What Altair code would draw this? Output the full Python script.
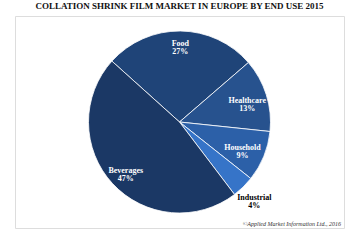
import altair as alt
import pandas as pd
import math

categories = ["Food", "Healthcare", "Household", "Industrial", "Beverages"]
shares = [27, 13, 9, 4, 47]
colors = ["#1f4478", "#27528e", "#2c60a8", "#3674c8", "#1b3865"]
label_colors = ["white", "white", "white", "black", "white"]
label_radius = [78, 71, 68, 107, 73]

df = pd.DataFrame({
    "cat": categories,
    "share": shares,
    "order": list(range(len(categories))),
    "label": [f"{c}\n{s}%" for c, s in zip(categories, shares)],
    "lc": label_colors,
    "lr": label_radius,
})

start = -48 * math.pi / 180
theta_scale = alt.Scale(range=[start, start + 2 * math.pi])

pie = alt.Chart(df).mark_arc(outerRadius=91, stroke="white", strokeWidth=0.8).encode(
    theta=alt.Theta("share:Q", stack=True, scale=theta_scale),
    order=alt.Order("order:Q"),
    color=alt.Color("cat:N", scale=alt.Scale(domain=categories, range=colors), legend=None),
)

labels = alt.Chart(df).transform_window(
    cum="sum(share)", sort=[alt.SortField("order")], frame=[None, 0]
).transform_joinaggregate(
    total="sum(share)"
).transform_calculate(
    mid=f"(datum.cum - datum.share / 2) / datum.total * 2 * PI + ({start})"
).mark_text(
    font="Liberation Serif", fontSize=8, fontWeight="bold", lineBreak="\n", lineHeight=8
).encode(
    text="label:N",
    theta=alt.Theta("mid:Q", scale=None),
    radius=alt.Radius("lr:Q", scale=None),
    color=alt.Color("lc:N", scale=None),
)

source = alt.Chart(pd.DataFrame({"t": ["©Applied Market Information Ltd., 2016"]})).mark_text(
    font="Liberation Serif", fontSize=6, fontStyle="italic", align="right", baseline="middle", color="#333"
).encode(text="t:N", x=alt.value(326), y=alt.value(208))

chart = alt.layer(pie, labels, source).properties(
    width=329,
    height=212,
    autosize=alt.AutoSizeParams(type="none"),
    padding={"left": 15, "top": 16, "right": 16, "bottom": 12},
    title=alt.Title(
        "COLLATION SHRINK FILM MARKET IN EUROPE BY END USE 2015",
        font="Liberation Serif", fontSize=9, fontWeight="bold", color="#111", offset=5, anchor="middle",
    ),
).configure_view(stroke="#cfcfcf", strokeWidth=1).configure(background="white")

chart.save("out.html", embed_options={"renderer": "svg", "actions": False})
